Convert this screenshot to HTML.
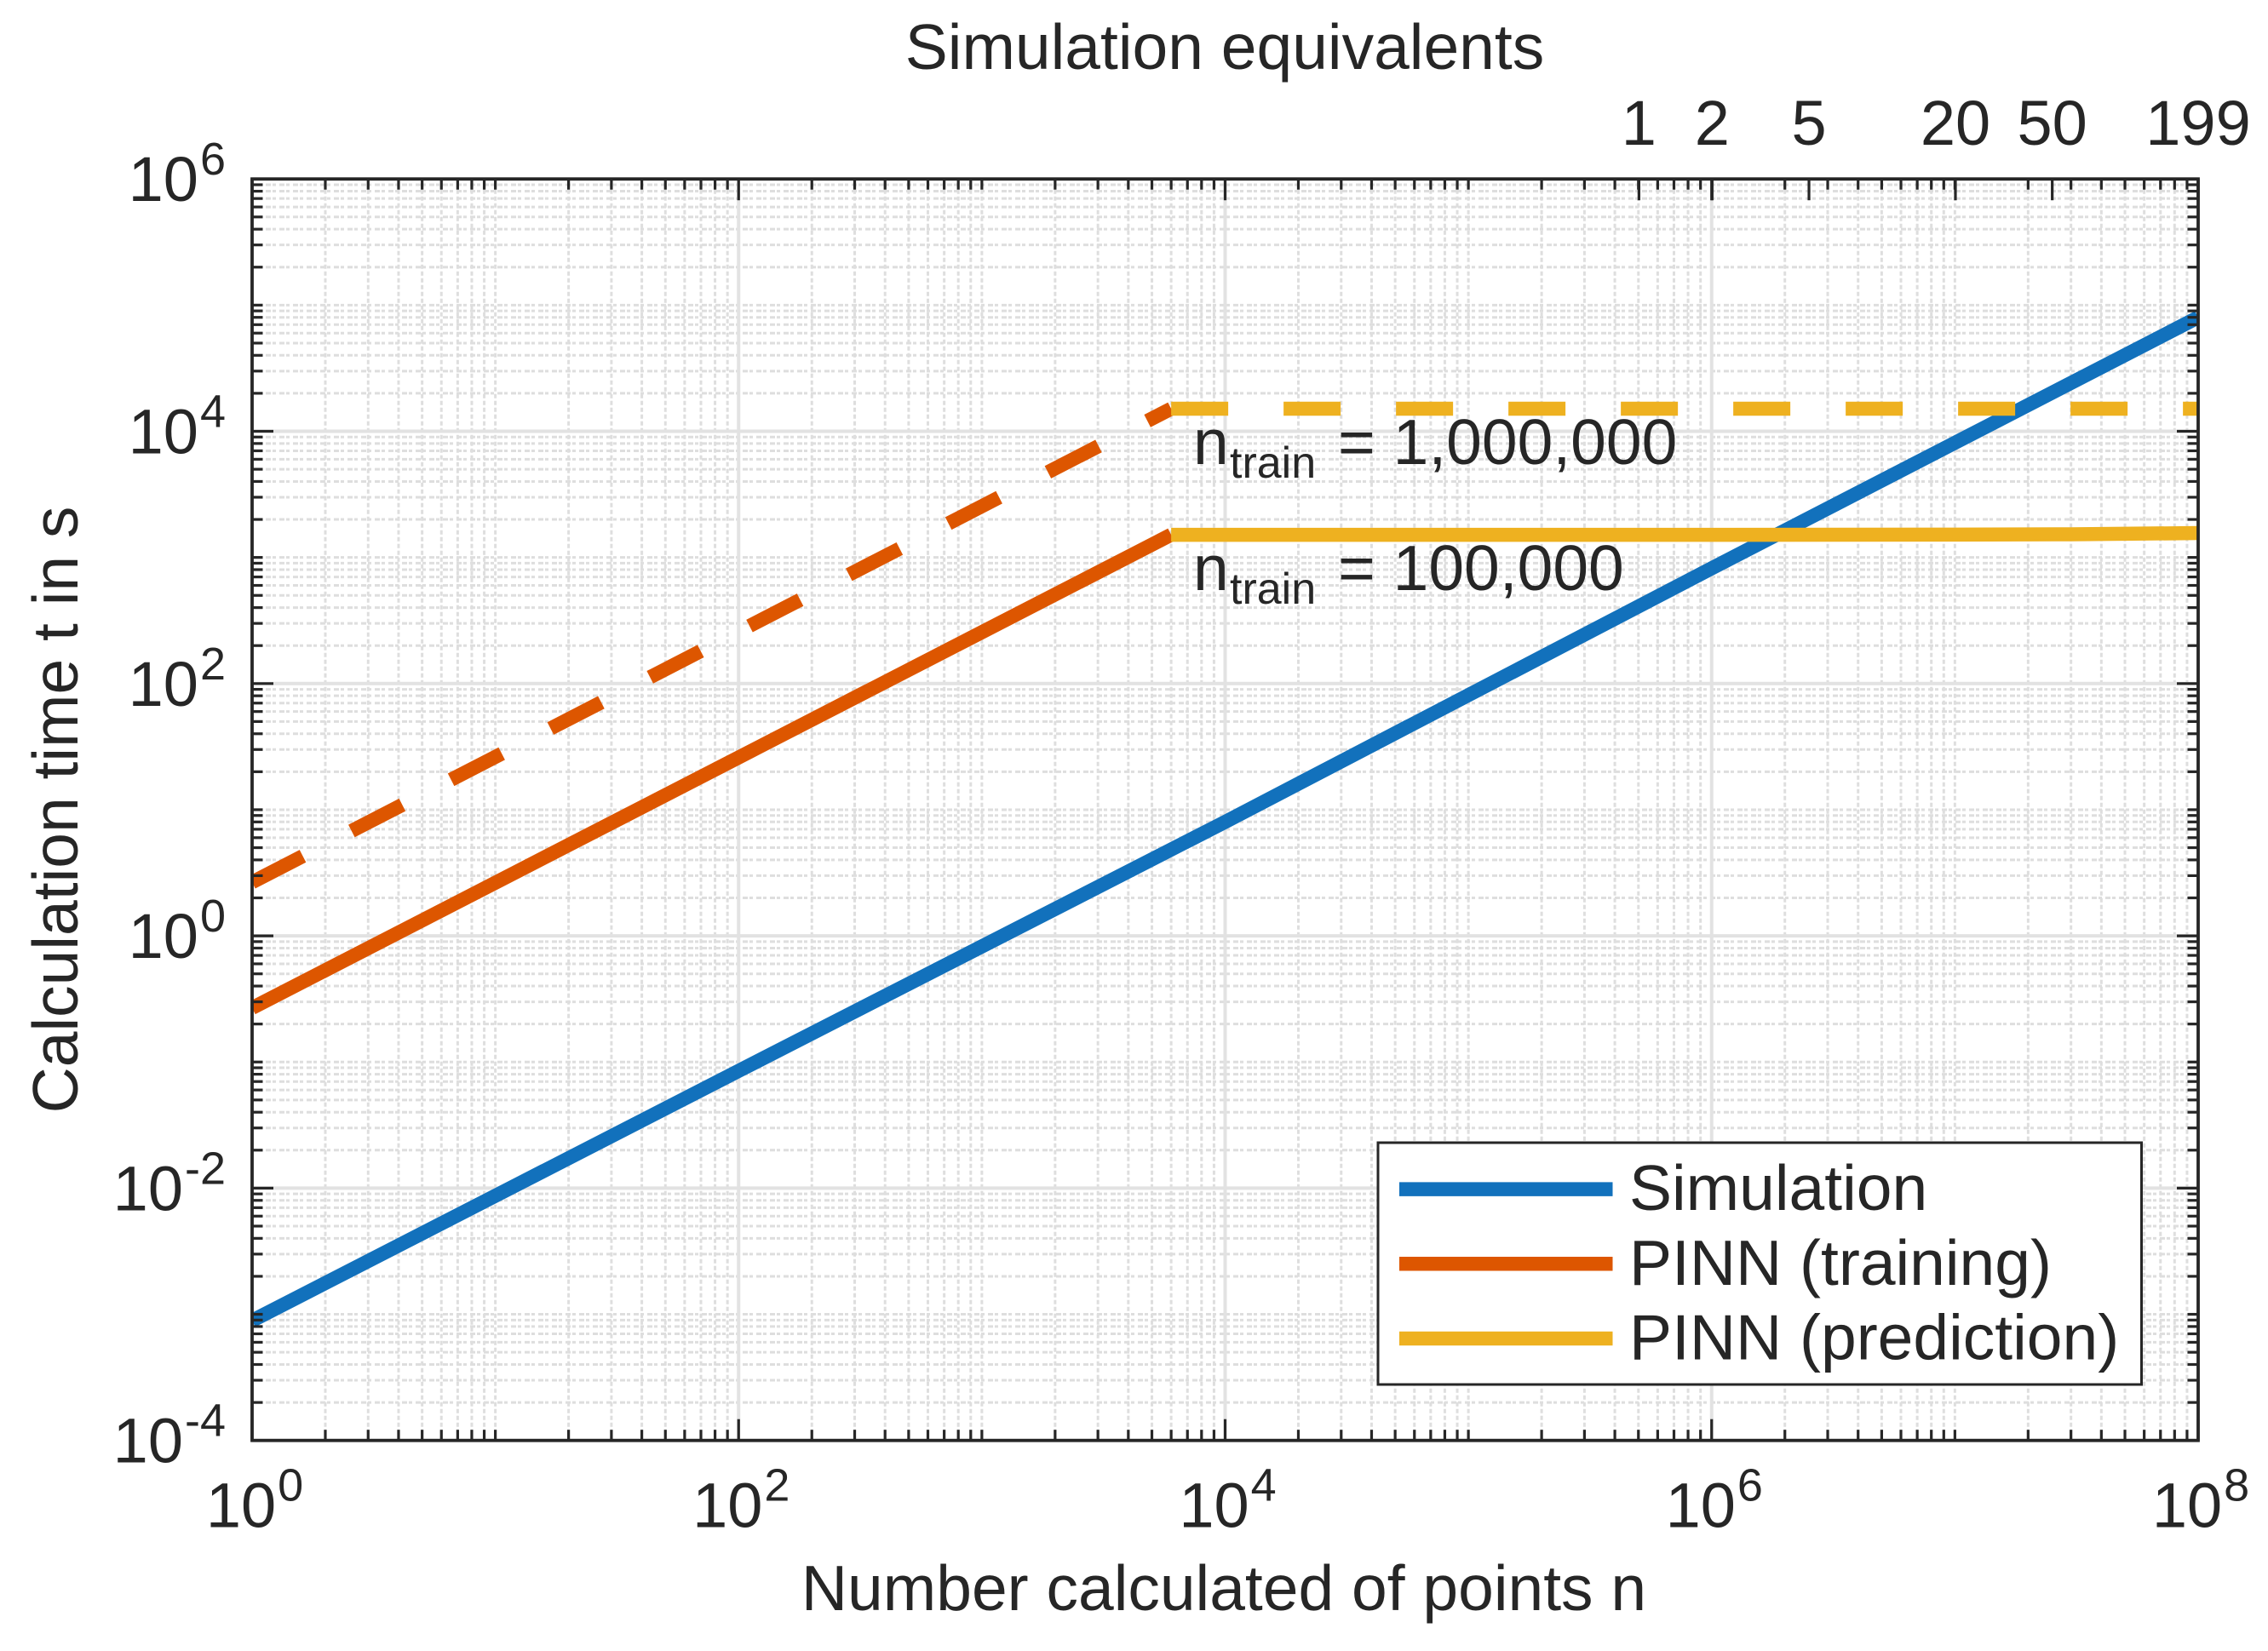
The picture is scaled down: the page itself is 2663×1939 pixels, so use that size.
<!DOCTYPE html>
<html>
<head>
<meta charset="utf-8">
<title>Calculation time chart</title>
<style>
html,body{margin:0;padding:0;background:#fff;}
svg{display:block;}
text{font-family:"Liberation Sans",Arial,sans-serif;fill:#262626;}
</style>
</head>
<body>
<svg id="chart" xmlns="http://www.w3.org/2000/svg" width="2663" height="1939" viewBox="0 0 2663 1939">
<rect x="0" y="0" width="2663" height="1939" fill="#ffffff"/>
</svg>
<script>
// ---- chart data ----
const xDomainExp = [0, 8];
const yDomainExp = [-4, 6];
const xTickExps = [0, 2, 4, 6, 8];
const yTickExps = [-4, -2, 0, 2, 4, 6];
const topTickLabels = [1, 2, 5, 20, 50, 199];
const pointsPerSimulation = 1e8 / 199;

const simulationN = [1, 1e2, 1e4, 1e6, 1e8];
const simulationT = [8.9e-4, 0.085, 8.0, 820, 8e4];
const trainingSolidN = [1, 6000];
const trainingSolidT = [0.268, 1513];
const trainingDashedN = [1, 6000];
const trainingDashedT = [2.66, 15100];
const predictionSolidN = [6000, 1e6, 1e7, 3e7, 1e8];
const predictionSolidT = [1510, 1510, 1515, 1525, 1560];
const predictionDashedN = [6000, 1e8];
const predictionDashedT = [15100, 15100];

const legendLabels = ["Simulation", "PINN (training)", "PINN (prediction)"];

// ---- layout ----
const plotL = 296, plotR = 2581, plotT = 210.2, plotB = 1691.7;
const blue = "#1271bc", orange = "#dd5600", yellow = "#eeb120", ink = "#262626";
const FS = 74, TITLE_FS = 75, SUP = 54, LINE_W = 16.5;

const svg = document.getElementById("chart");
const NS = "http://www.w3.org/2000/svg";

function xScale(n) {
  return plotL + (Math.log10(n) - xDomainExp[0]) / (xDomainExp[1] - xDomainExp[0]) * (plotR - plotL);
}
function yScale(t) {
  return plotB - (Math.log10(t) - yDomainExp[0]) / (yDomainExp[1] - yDomainExp[0]) * (plotB - plotT);
}
function mk(tag, attrs, parent) {
  const el = document.createElementNS(NS, tag);
  for (const k in attrs) el.setAttribute(k, attrs[k]);
  (parent || svg).appendChild(el);
  return el;
}
function seg(x1, y1, x2, y2, stroke, w, dash, parent) {
  const a = { x1: x1, y1: y1, x2: x2, y2: y2, stroke: stroke, "stroke-width": w };
  if (dash) a["stroke-dasharray"] = dash;
  return mk("line", a, parent);
}
function minorValues() {
  const out = [];
  for (let e = xDomainExp[0]; e < xDomainExp[1]; e++) {
    for (let m = 2; m <= 9; m++) out.push(m * Math.pow(10, e));
    if (e + 1 < xDomainExp[1] && !xTickExps.includes(e + 1)) out.push(Math.pow(10, e + 1));
  }
  return out;
}
function minorValuesY() {
  const out = [];
  for (let e = yDomainExp[0]; e < yDomainExp[1]; e++) {
    for (let m = 2; m <= 9; m++) out.push(m * Math.pow(10, e));
    if (e + 1 < yDomainExp[1] && !yTickExps.includes(e + 1)) out.push(Math.pow(10, e + 1));
  }
  return out;
}

// ---- grid ----
const gridG = mk("g", {});


minorValuesY().forEach(v => {
  const y = yScale(v);
  const l = seg(plotL, y, plotR, y, "#dedede", 3, "6 2 4 4", gridG);
  
  
});
minorValues().forEach(v => {
  const x = xScale(v);
  const l = seg(x, plotB, x, plotT, "#dedede", 3, "5 3", gridG);
  
  
});
yTickExps.forEach(e => {
  const y = yScale(Math.pow(10, e));
  const l = seg(plotL, y, plotR, y, "#e2e2e2", 4, null, gridG);
  
  
});
xTickExps.forEach(e => {
  const x = xScale(Math.pow(10, e));
  const l = seg(x, plotB, x, plotT, "#e2e2e2", 4, null, gridG);
  
  
});

// ---- series ----
const defs = mk("defs", {});
const clip = mk("clipPath", { id: "plot-clip" }, defs);
mk("rect", { x: plotL, y: plotT, width: plotR - plotL, height: plotB - plotT }, clip);
const seriesG = mk("g", { "clip-path": "url(#plot-clip)" });



function linePath(ns, ts) {
  return ns.map((n, i) => (i ? "L" : "M") + xScale(n).toFixed(2) + " " + yScale(ts[i]).toFixed(2)).join(" ");
}
function drawSeries(ns, ts, color, dash) {
  const a = { d: linePath(ns, ts), fill: "none", stroke: color, "stroke-width": LINE_W, "stroke-linejoin": "miter", "stroke-linecap": "butt" };
  if (dash) a["stroke-dasharray"] = dash;
  return mk("path", a, seriesG);
}
const sSim = drawSeries(simulationN, simulationT, blue);


const sTrainDashed = drawSeries(trainingDashedN, trainingDashedT, orange, "67 64.4");


const sTrain = drawSeries(trainingSolidN, trainingSolidT, orange);


const sPredDashed = drawSeries(predictionDashedN, predictionDashedT, yellow, "67 65");


const sPred = drawSeries(predictionSolidN, predictionSolidT, yellow);



// ---- axes box & ticks ----
const axesG = mk("g", {});


const minorLen = 12.5, majorLen = 25, tw = 3.2;
minorValues().forEach(v => {
  const x = xScale(v);
  const b = seg(x, plotB, x, plotB - minorLen, ink, tw, null, axesG);
  
  
  const t = seg(x, plotT, x, plotT + minorLen, ink, tw, null, axesG);
  
  
});
xTickExps.forEach(e => {
  const x = xScale(Math.pow(10, e));
  const b = seg(x, plotB, x, plotB - majorLen, ink, tw, null, axesG);
  
  
  const t = seg(x, plotT, x, plotT + majorLen, ink, tw, null, axesG);
  
  
});
minorValuesY().forEach(v => {
  const y = yScale(v);
  const l = seg(plotL, y, plotL + minorLen, y, ink, tw, null, axesG);
  
  
  const r = seg(plotR, y, plotR - minorLen, y, ink, tw, null, axesG);
  
  
});
yTickExps.forEach(e => {
  const y = yScale(Math.pow(10, e));
  const l = seg(plotL, y, plotL + majorLen, y, ink, tw, null, axesG);
  
  
  const r = seg(plotR, y, plotR - majorLen, y, ink, tw, null, axesG);
  
  
});
const box = mk("rect", { x: plotL, y: plotT, width: plotR - plotL, height: plotB - plotT, fill: "none", stroke: ink, "stroke-width": 3.8 }, axesG);



// ---- tick labels ----
function powerLabel(x, baseY, exp, anchor) {
  const t = mk("text", { x: x, y: baseY, "font-size": FS, "text-anchor": anchor });
  t.appendChild(document.createTextNode("10"));
  const s = mk("tspan", { dy: -31, dx: 2, "font-size": SUP }, t);
  s.textContent = String(exp);
  return t;
}
xTickExps.forEach(e => {
  const t = powerLabel(xScale(Math.pow(10, e)) + 3, plotB + 102, e, "middle");
  
  
});
yTickExps.forEach(e => {
  const t = powerLabel(265, yScale(Math.pow(10, e)) + 26, e, "end");
  
  
});
topTickLabels.forEach(k => {
  const x = xScale(k * pointsPerSimulation);
  const tick = seg(x, plotT, x, plotT + majorLen, ink, tw, null, axesG);
  
  
  const t = mk("text", { x: x, y: 170, "font-size": FS, "text-anchor": "middle" });
  t.textContent = String(k);
  
  
});

// ---- axis titles ----
const titleTop = mk("text", { x: 1438, y: 81, "font-size": TITLE_FS, "text-anchor": "middle" });
titleTop.textContent = "Simulation equivalents";


const titleX = mk("text", { x: 1437, y: 1891, "font-size": TITLE_FS, "text-anchor": "middle" });
titleX.textContent = "Number calculated of points n";


const titleY = mk("text", { x: 0, y: 0, "font-size": TITLE_FS, "text-anchor": "middle", transform: "translate(91 951) rotate(-90)" });
titleY.textContent = "Calculation time t in s";



// ---- annotations ----
function trainLabel(baseY, value) {
  const t = mk("text", { x: 1401, y: baseY, "font-size": TITLE_FS });
  t.appendChild(document.createTextNode("n"));
  const sub = mk("tspan", { x: 1444, dy: 16, "font-size": 52 }, t);
  sub.textContent = "train";
  const rest = mk("tspan", { x: 1571, dy: -16, "font-size": TITLE_FS }, t);
  rest.textContent = "= " + value;
  return t;
}
const a1 = trainLabel(545, "1,000,000");


const a2 = trainLabel(693, "100,000");



// ---- legend ----
const legendG = mk("g", {});


const legendBox = mk("rect", { x: 1618, y: 1342, width: 896.5, height: 284, fill: "#ffffff", stroke: ink, "stroke-width": 3 }, legendG);


const legendColors = [blue, orange, yellow];
legendLabels.forEach((lab, i) => {
  const y = 1396.6 + i * 87.7;
  const sw = seg(1643, y, 1893.5, y, legendColors[i], LINE_W, null, legendG);
  
  
  const t = mk("text", { x: 1913, y: y + 24.6, "font-size": TITLE_FS }, legendG);
  t.textContent = lab;
  
  
});
</script>
</body>
</html>
